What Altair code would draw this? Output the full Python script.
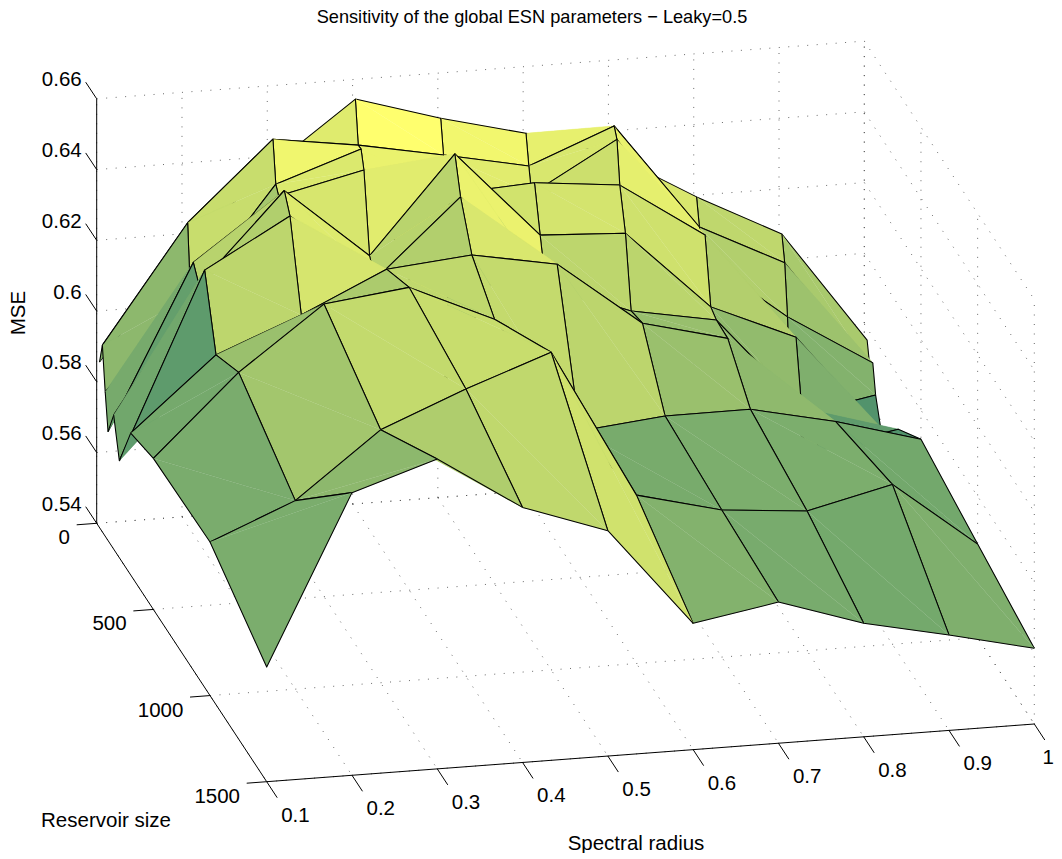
import altair as alt
import pandas as pd

W, H = 1046, 845

spectral_radius = [0.1, 0.2, 0.3, 0.4, 0.5, 0.6, 0.7, 0.8, 0.9, 1.0]
reservoir_size = [25, 50, 75, 100, 150, 200, 300, 500, 1000, 1500]

# MSE for each spectral radius, one value per reservoir size
mse_r01 = [.5868, .5928, .5808, .5708, .5779, .5674, .5801, .5827, .5834, .5724]
mse_r02 = [.6167, .6256, .6061, .6168, .6129, .6195, .6004, .6052, .5933, .6199]
mse_r03 = [.6382, .6474, .6359, .6338, .6377, .6330, .6099, .6227, .6115, .6276]
mse_r04 = [.6557, .6439, .6440, .6393, .6175, .6132, .6210, .6256, .6212, .6121]
mse_r05 = [.6485, .6393, .5769, .6307, .6445, .6348, .6232, .6148, .6298, .6037]
mse_r06 = [.6424, .6344, .6277, .6321, .6197, .6080, .6188, .5814, .5876, .5757]
mse_r07 = [.6347, .6439, .6413, .6296, .6184, .5989, .6003, .5838, .5816, .5799]
mse_r08 = [.6208, .6135, .6062, .6137, .5958, .5945, .5942, .5839, .5795, .5721]
mse_r09 = [.6085, .6016, .5875, .5604, .5854, .5678, .5606, .5786, .5852, .5670]
mse_r10 = [.5767, .5700, .5727, .5648, .5568, .5587, .5649, .5718, .5665, .5614]
mse_cols = [mse_r01, mse_r02, mse_r03, mse_r04, mse_r05, mse_r06, mse_r07, mse_r08, mse_r09, mse_r10]

z_ticks = [0.54, 0.56, 0.58, 0.6, 0.62, 0.64, 0.66]
z_tick_labels = ["0.54", "0.56", "0.58", "0.6", "0.62", "0.64", "0.66"]
s_ticks = [0, 500, 1000, 1500]
r_tick_labels = ["0.1", "0.2", "0.3", "0.4", "0.5", "0.6", "0.7", "0.8", "0.9", "1"]


def proj(r, s, z):
    """Orthographic view of the MATLAB axes box, in chart pixels."""
    u = (r - 0.1) / 0.9
    v = s / 1500
    w = (z - 0.54) / 0.12
    return (96.7 + 767.6 * u + 170.0 * v - 8, 523.3 - 57.7 * u + 258.4 * v - 424.5 * w - 8)


def P(i, j):
    return list(proj(spectral_radius[i], reservoir_size[j], mse_cols[i][j]))


def poly(points, z):
    return {"type": "Feature", "properties": {"kind": "face", "mse": z},
            "geometry": {"type": "Polygon", "coordinates": [points + [points[0]]]}}


def line(points, z):
    return {"type": "Feature", "properties": {"kind": "edge", "mse": z},
            "geometry": {"type": "LineString", "coordinates": points}}


# back to front: small reservoirs first, large spectral radius first
features = []
for j in range(len(reservoir_size) - 1):
    for i in range(len(spectral_radius) - 2, -1, -1):
        z = mse_cols[i][j]
        a, b, c, d = P(i, j), P(i + 1, j), P(i + 1, j + 1), P(i, j + 1)
        features.append(poly([a, b, c], z))
        features.append(line([a, b, c], z))
        features.append(poly([a, c, d], z))
        features.append(line([a, d, c], z))

surface_data = alt.InlineData(values={"type": "FeatureCollection", "features": features},
                              format=alt.DataFormat(property="features"))

color_scale = alt.Scale(domain=[0.5568, 0.6557],
                        range=["rgb(75,143,108)", "rgb(255,255,110)"],
                        interpolate="rgb")

surface = alt.Chart(surface_data).mark_geoshape(strokeJoin="round").encode(
    fill=alt.condition("datum.properties.kind == 'edge'", alt.value("transparent"),
                       alt.Fill("properties.mse:Q", scale=color_scale, legend=None)),
    stroke=alt.condition("datum.properties.kind == 'edge'", alt.value("#000000"),
                         alt.Stroke("properties.mse:Q", scale=color_scale, legend=None)),
    strokeWidth=alt.condition("datum.properties.kind == 'edge'", alt.value(1.05), alt.value(0.25)),
).project(type="identity", scale=1, translate=[0, 0])

sx = alt.Scale(domain=[0, W], range=[0, W])
sy = alt.Scale(domain=[0, H], range=[0, H])
R0, R1 = spectral_radius[0], spectral_radius[-1]
Z0, Z1 = z_ticks[0], z_ticks[-1]
S0, S1 = s_ticks[0], s_ticks[-1]


def seg(p, q):
    return {"x": p[0], "y": p[1], "x2": q[0], "y2": q[1]}


grid_rows = []
for r in spectral_radius:
    grid_rows.append(seg(proj(r, S0, Z0), proj(r, S1, Z0)))
    grid_rows.append(seg(proj(r, S0, Z0), proj(r, S0, Z1)))
for s in s_ticks:
    grid_rows.append(seg(proj(R0, s, Z0), proj(R1, s, Z0)))
    grid_rows.append(seg(proj(R1, s, Z0), proj(R1, s, Z1)))
for z in z_ticks:
    grid_rows.append(seg(proj(R0, S0, z), proj(R1, S0, z)))
    grid_rows.append(seg(proj(R1, S0, z), proj(R1, S1, z)))

axis_rows = [seg(proj(R0, S0, Z0), proj(R0, S0, Z1)),
             seg(proj(R0, S0, Z0), proj(R0, S1, Z0)),
             seg(proj(R0, S1, Z0), proj(R1, S1, Z0))]
for z in z_ticks:
    p = proj(R0, S0, z)
    axis_rows.append(seg(p, (p[0] - 11, p[1] - 16.6)))
for s in s_ticks:
    p = proj(R0, s, Z0)
    axis_rows.append(seg(p, (p[0] - 20, p[1] + 1.5)))
for r in spectral_radius:
    p = proj(r, S1, Z0)
    axis_rows.append(seg(p, (p[0] + 10.5, p[1] + 16)))


def rules(rows, **kw):
    return alt.Chart(pd.DataFrame(rows)).mark_rule(**kw).encode(
        x=alt.X("x:Q", scale=sx, axis=None), x2="x2:Q",
        y=alt.Y("y:Q", scale=sy, axis=None), y2="y2:Q")


grid = rules(grid_rows, color="#444444", strokeWidth=0.8, strokeDash=[1, 8.5])
axes = rules(axis_rows, color="#000000", strokeWidth=1)

FONT = "Liberation Sans"
LBL = 20.5


def labels(rows, align):
    return alt.Chart(pd.DataFrame(rows)).mark_text(
        font=FONT, fontSize=LBL, align=align, baseline="middle", color="#000000").encode(
        x=alt.X("x:Q", scale=sx, axis=None), y=alt.Y("y:Q", scale=sy, axis=None), text="t:N")


z_rows = []
for z, t in zip(z_ticks, z_tick_labels):
    p = proj(R0, S0, z)
    z_rows.append({"x": p[0] - 15, "y": p[1] - 18.5, "t": t})
s_rows = []
for s in s_ticks:
    p = proj(R0, s, Z0)
    s_rows.append({"x": p[0] - 26.7, "y": p[1] + 15, "t": str(s)})
r_rows = []
for r, t in zip(spectral_radius, r_tick_labels):
    p = proj(r, S1, Z0)
    # the last label sits against the edge of the page: keep it whole
    r_rows.append({"x": min(p[0] + 14.5, W - 11.5), "y": p[1] + 34, "t": t})


def fixed(text, x, y, size, angle=0):
    return alt.Chart(pd.DataFrame({"t": [text]})).mark_text(
        font=FONT, fontSize=size, align="center", baseline="middle", angle=angle, color="#000000").encode(
        x=alt.value(x), y=alt.value(y), text="t:N")


chart = alt.layer(
    grid, surface, axes,
    labels(z_rows, "right"), labels(s_rows, "right"), labels(r_rows, "left"),
    fixed("Sensitivity of the global ESN parameters \u2212 Leaky=0.5", 524, 10, 18.2),
    fixed("MSE", 11, 305, LBL, 270),
    fixed("Reservoir size", 98, 813, LBL),
    fixed("Spectral radius", 628, 836, LBL),
).properties(width=W, height=H, padding=0, autosize=alt.AutoSizeParams(type="none")).configure_view(stroke=None)

chart.save("out.html", embed_options={"renderer": "svg", "actions": False})
